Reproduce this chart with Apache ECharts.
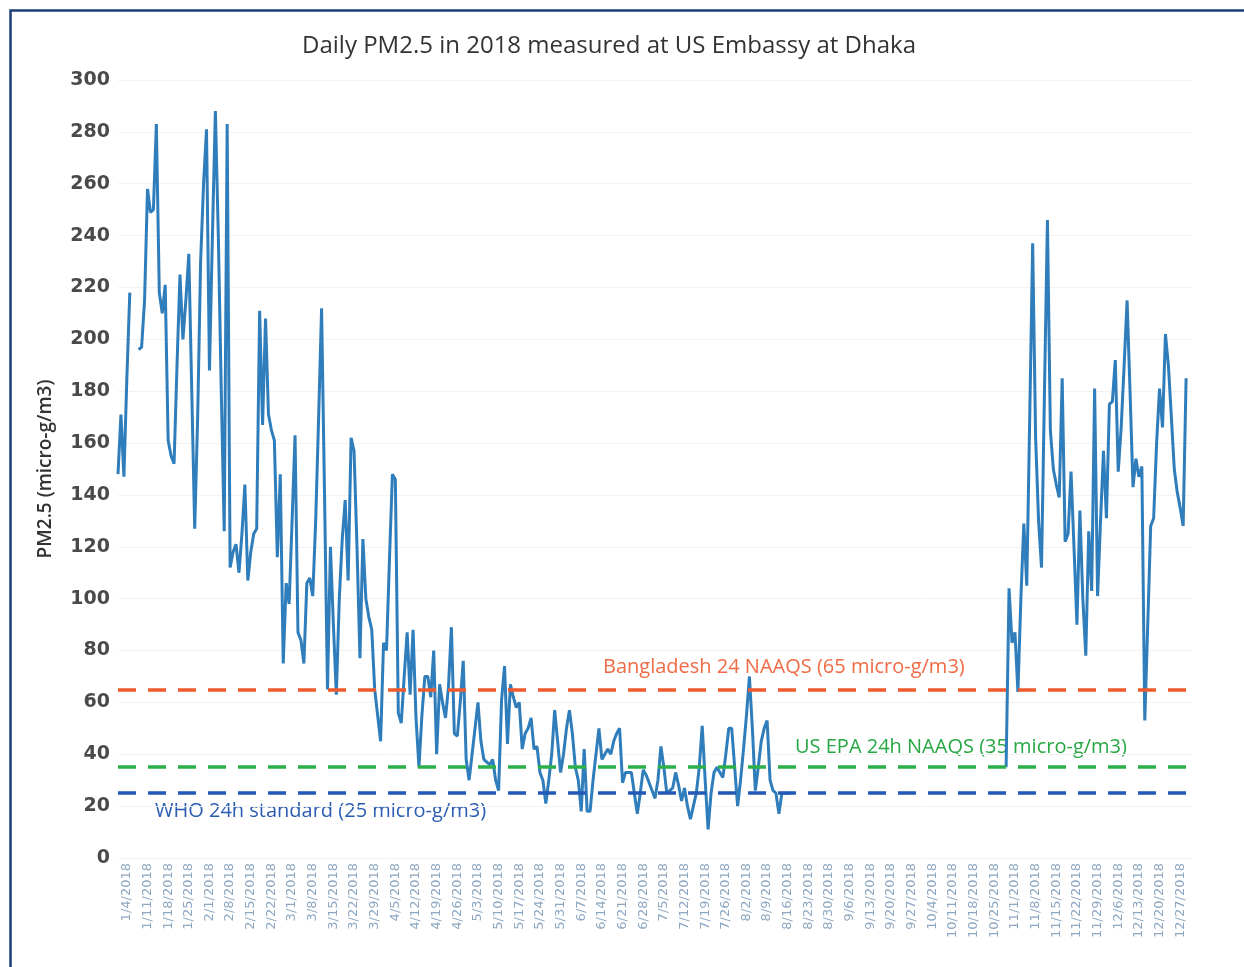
<!DOCTYPE html>
<html>
<head>
<meta charset="utf-8">
<title>Daily PM2.5 Dhaka 2018</title>
<script src="https://cdn.jsdelivr.net/npm/echarts@6/dist/echarts.min.js"></script>
<style>
  html, body { margin: 0; padding: 0; background: #fff; }
  #chart { width: 1244px; height: 967px; }
</style>
</head>
<body>
<div id="chart"></div>
<script>
// daily PM2.5 values (micro-g/m3), null = no data that day
const jan = [148, 171, 147, 185, 218, null, null, 196, 197, 215, 258, 249, 250, 283, 218, 210, 221, 161, 155, 152, 190, 225, 200, 215, 233, 180, 127, 170, 230, 260, 281];
const feb = [188, 240, 288, 240, 180, 126, 283, 112, 118, 121, 110, 125, 144, 107, 118, 125, 127, 211, 167, 208, 171, 165, 161, 116, 148, 75, 106, 98];
const mar = [130, 163, 87, 84, 75, 106, 108, 101, 130, 170, 212, 140, 65, 120, 90, 63, 100, 123, 138, 107, 162, 157, 120, 77, 123, 100, 93, 88, 65, 55, 45];
const apr = [83, 80, 115, 148, 146, 56, 52, 70, 87, 63, 88, 54, 35, 55, 70, 70, 62, 80, 40, 67, 60, 54, 66, 89, 48, 47, 60, 76, 38, 30];
const may = [40, 50, 60, 45, 38, 37, 36, 38, 30, 26, 61, 74, 44, 67, 62, 58, 60, 42, 48, 50, 54, 42, 43, 33, 30, 21, 30, 40, 57, 45, 33];
const jun = [40, 50, 57, 48, 35, 30, 18, 42, 18, 18, 30, 40, 50, 38, 40, 42, 40, 45, 48, 50, 29, 33, 33, 33, 25, 17, 25, 34, 32, 29];
const jul = [26, 23, 30, 43, 35, 25, 26, 27, 33, 28, 22, 27, 20, 15, 20, 25, 35, 51, 30, 11, 25, 33, 35, 33, 31, 40, 50, 50, 35, 20, 30];
const aug = [42, 55, 70, 50, 26, 35, 45, 50, 53, 30, 26, 25, 17, 25, 25, 25, 25, null, null, null, null, null, null, null, null, null, null, null, null, null, null];
const sep = [null, null, null, null, null, null, null, null, null, null, null, null, null, null, null, null, null, null, null, null, null, null, null, null, null, null, null, null, null, null];
const oct = [null, null, null, null, null, null, null, null, null, null, null, null, null, null, null, null, null, null, null, null, null, null, null, null, null, null, null, null, 35, 104, 83];
const nov = [87, 64, 100, 129, 105, 170, 237, 162, 130, 112, 180, 246, 165, 150, 144, 139, 185, 122, 125, 149, 120, 90, 134, 100, 78, 126, 103, 181, 101, 130];
const dec = [157, 131, 175, 176, 192, 149, 166, 190, 215, 180, 143, 154, 147, 151, 53, 90, 128, 131, 160, 181, 166, 202, 190, 170, 150, 141, 135, 128, 185, null, null];

const pm25 = [].concat(jan, feb, mar, apr, may, jun, jul, aug, sep, oct, nov, dec);

// reference standards
const bdLimit = 65;
const epaLimit = 35;
const whoLimit = 25;

// one category per day of 2018
const monthDays = [31, 28, 31, 30, 31, 30, 31, 31, 30, 31, 30, 31];
const dates = [];
monthDays.forEach(function (n, m) {
  for (let d = 1; d <= n; d++) dates.push((m + 1) + "/" + d + "/2018");
});

const chart = echarts.init(document.getElementById("chart"));

const option = {
  backgroundColor: "#fff",
  animation: false,
  title: {
    text: "Daily PM2.5 in 2018 measured at US Embassy at Dhaka",
    left: 604,
    textAlign: "center",
    top: 29,
    textStyle: {
      fontFamily: "Open Sans",
      fontSize: 24,
      fontWeight: "normal",
      color: "#333"
    }
  },
  grid: {
    left: 118,
    right: 52,
    top: 80,
    bottom: 109
  },
  xAxis: {
    type: "category",
    data: dates,
    boundaryGap: false,
    axisLine: { show: false },
    axisTick: { show: false },
    axisLabel: {
      rotate: 90,
      margin: 5,
      fontFamily: "DejaVu Sans",
      fontSize: 13,
      color: "#8ea8c2",
      interval: function (idx) {
        return (idx - 3) % 7 === 0;
      }
    },
    splitLine: { show: false }
  },
  yAxis: {
    type: "value",
    min: 0,
    max: 300,
    interval: 20,
    name: "PM2.5 (micro-g/m3)",
    nameLocation: "middle",
    nameGap: 63,
    nameTextStyle: {
      fontFamily: "Open Sans",
      fontSize: 19,
      fontWeight: 600,
      color: "#333"
    },
    axisLine: { show: false },
    axisTick: { show: false },
    axisLabel: {
      margin: 8,
      fontFamily: "DejaVu Sans",
      fontSize: 19,
      fontWeight: "bold",
      color: "#4a4a4a"
    },
    splitLine: { lineStyle: { color: "#f2f2f2", width: 1 } }
  },
  series: [
    {
      name: "PM2.5",
      type: "line",
      data: pm25,
      connectNulls: false,
      showSymbol: false,
      silent: true,
      lineStyle: { color: "#2f7dbb", width: 3 },
      markLine: {
        silent: true,
        symbol: "none",
        label: { show: false },
        data: [
          { yAxis: bdLimit, lineStyle: { color: "#ef5a2c", width: 3.5, type: [18, 12] } },
          { yAxis: epaLimit, lineStyle: { color: "#2cb14a", width: 3.5, type: [18, 12] } },
          { yAxis: whoLimit, lineStyle: { color: "#2358b6", width: 3.5, type: [18, 12] } }
        ]
      }
    }
  ],
  graphic: [
    {
      type: "rect",
      left: 8,
      top: 8,
      shape: { width: 1300, height: 1000 },
      style: { fill: "none", stroke: "#1d3f78", lineWidth: 2.5 },
      silent: true
    },
    {
      type: "text",
      left: 603,
      top: 657,
      style: {
        text: "Bangladesh 24 NAAQS (65 micro-g/m3)",
        font: "20px 'Open Sans'",
        fill: "#f06a45"
      }
    },
    {
      type: "text",
      left: 795,
      top: 737,
      style: {
        text: "US EPA 24h NAAQS (35 micro-g/m3)",
        font: "20px 'Open Sans'",
        fill: "#27a844"
      }
    },
    {
      type: "text",
      left: 155,
      top: 801,
      style: {
        text: "WHO 24h standard (25 micro-g/m3)",
        font: "20px 'Open Sans'",
        fill: "#2a5cb2"
      }
    }
  ]
};

chart.setOption(option);
</script>
</body>
</html>
